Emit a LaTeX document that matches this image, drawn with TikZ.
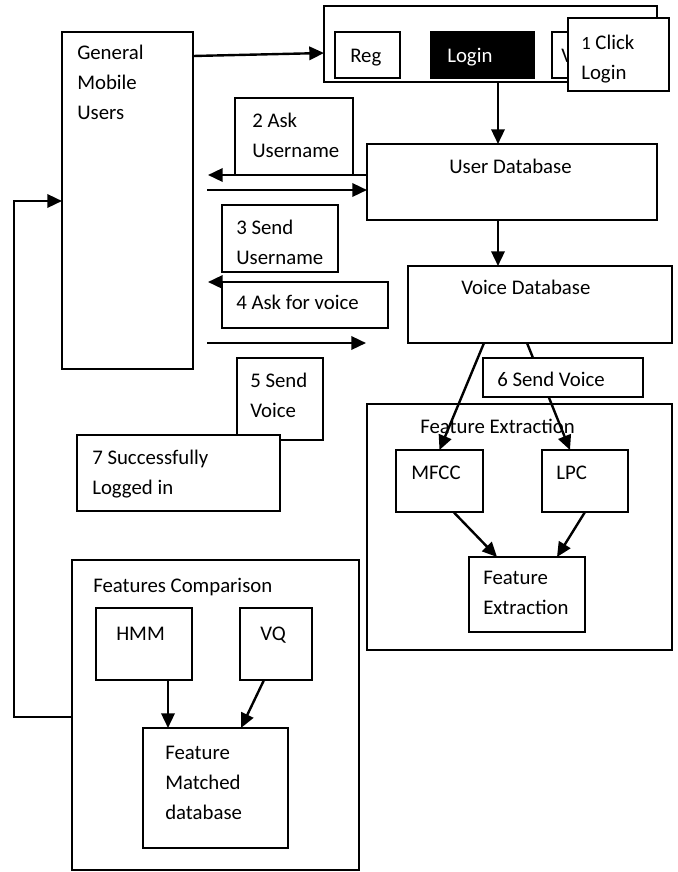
\documentclass[tikz,border=0pt]{standalone}
\usepackage{fontspec}
\setmainfont{Carlito}
\usetikzlibrary{arrows.meta, positioning, fit, calc}
\tikzset{
    box/.style={draw, line width=1.1pt, inner sep=0pt, outer sep=0pt},
    cover/.style={box, fill=white},
    txt/.style={anchor=north west, align=left, inner sep=0pt, font=\fontsize{15.6}{22.5}\selectfont, execute at begin node=\strut},
    arrow/.style={-{Triangle[length=11pt, width=10pt]}, line width=1.8pt}
}

\begin{document}
\begin{tikzpicture}[x=0.75pt, y=-0.75pt]
        \useasboundingbox (0,0) rectangle (678,872);
        % users and login screen
        \node [box, fit={(62,32) (193,369)}] (gmu) {};
        \node [txt] (gmu-t) at (77,45) {General\\Mobile\\Users};
        \node [box, fit={(324,6) (657,82)}] (panel) {};
        \node [box, fit={(335,32) (400,78)}] (reg) {};
        \node [txt] (reg-t) at (350,41) {Reg};
        \node [box, fill=black, fit={(431,32) (534,78)}] (login) {};
        \node [txt, text=white] (login-t) at (447,41) {Login};
        \node [box, fit={(552,32) (630,78)}] (voice) {};
        \begin{scope}
            \clip (552,32) rectangle (568,78);
            \node [txt] (voice-t) at (561,41) {V};
        \end{scope}
        \node [cover, fit={(568,18) (669,91)}] (click) {};
        \node [txt] (click-t) at (581,35) {{\fontsize{14}{22.5}\selectfont 1} Click\\Login};
        % databases
        \node [box, fit={(367,144) (657,220)}] (udb) {};
        \node [txt] (udb-t) at (449,152) {User Database};
        \node [box, fit={(408,266) (672,343)}] (vdb) {};
        \node [txt] (vdb-t) at (461,273) {Voice Database};
        % messages
        \node [box, fit={(235,98) (353,175)}] (ask2) {};
        \node [txt] (ask2-t) at (252,113) {2 Ask\\Username};
        \node [box, fit={(222,205) (338,272)}] (send3) {};
        \node [txt] (send3-t) at (236,220) {3 Send\\Username};
        \node [box, fit={(222,282) (388,328)}] (ask4) {};
        \node [txt] (ask4-t) at (236,288) {4 Ask for voice};
        \node [box, fit={(237,358) (323,440)}] (send5) {};
        \node [txt] (send5-t) at (250,373) {5 Send\\Voice};
        \node [cover, fit={(77,435) (280,511)}] (succ7) {};
        \node [txt] (succ7-t) at (92,450) {7 Successfully\\Logged in};
        % feature extraction
        \node [box, fit={(367,404) (672,650)}] (fext) {};
        \node [txt] (fext-t) at (420,412) {Feature Extraction};
        \node [box, fit={(396,450) (483,512)}] (mfcc) {};
        \node [txt] (mfcc-t) at (411,458) {MFCC};
        \node [box, fit={(542,450) (628,512)}] (lpc) {};
        \node [txt] (lpc-t) at (556,458) {LPC};
        \node [box, fit={(469,557) (585,632)}] (fe) {};
        \node [txt] (fe-t) at (483,571) {Feature\\Extraction};
        % features comparison
        \node [box, fit={(72,560) (359,870)}] (fcmp) {};
        \node [txt] (fcmp-t) at (93,571) {Features Comparison};
        \node [box, fit={(96,608) (192,680)}] (hmm) {};
        \node [txt] (hmm-t) at (116,619) {HMM};
        \node [box, fit={(240,608) (312,680)}] (vq) {};
        \node [txt] (vq-t) at (260,619) {VQ};
        \node [box, fit={(143,728) (288,848)}] (fmd) {};
        \node [txt] (fmd-t) at (165,746) {Feature\\Matched\\database};

        \coordinate (dn) at ($(udb.north west)+(131,0)$);
        \coordinate (out2) at (208,175);
        \coordinate (in3) at (207,190);
        \coordinate (from4) at (368,282);
        \coordinate (out4) at (208,282);
        \coordinate (in5) at (207,343);
        \coordinate (to5) at (366,343);
        \coordinate (turn) at (14,0);
        \coordinate (fb) at ($(fcmp.north west)+(0,157)$);
        \coordinate (back) at ($(gmu.north west)+(0,169)$);

        \draw [arrow] ($(gmu.north east)+(0,24)$) -- ($(panel.north west)+(0,47)$);
        \draw [arrow] (panel.south -| dn) -- (dn);
        \draw [arrow] ($(udb.north west)+(0,31)$) -- (out2);
        \draw [arrow] (in3) -- ($(udb.north west)+(0,46)$);
        \draw [arrow] (udb.south -| dn) -- (vdb.north -| dn);
        \draw [arrow] (from4) -- (out4);
        \draw [arrow] (in5) -- (to5);
        \draw [arrow] ($(vdb.south west)+(76,0)$) -- (mfcc.north);
        \draw [arrow] ($(vdb.south west)+(119,0)$) -- ($(lpc.north)+(-15,0)$);
        \draw [arrow] ($(mfcc.south)+(14,0)$) -- ($(fe.north west)+(28,0)$);
        \draw [arrow] (lpc.south) -- ($(fe.north east)+(-28,0)$);
        \draw [arrow] (hmm.south -| fmd.north west) ++(25,0) -- ++(0,48);
        \draw [arrow] ($(vq.south)+(-12,0)$) -- ($(fmd.north west)+(98,0)$);
        \draw [arrow] (fb) -- (fb -| turn) -- (back -| turn) -- (back);

        \node [cover, fit={(483,358) (643,397)}] (send6) {};
        \node [txt] (send6-t) at (497,365) {6 Send Voice};
\end{tikzpicture}
\end{document}
